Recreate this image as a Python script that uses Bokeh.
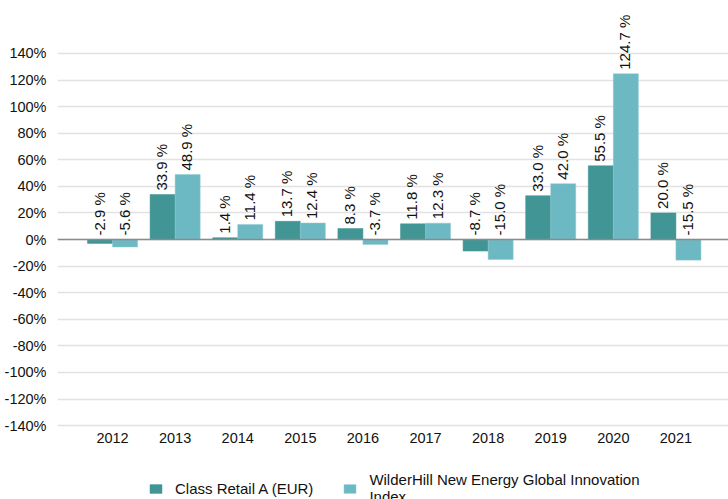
from bokeh.plotting import figure
from bokeh.models import (ColumnDataSource, Range1d, FixedTicker, PrintfTickFormatter,
                          Span, Legend, LegendItem, LabelSet)
from bokeh.core.properties import value
from bokeh.transform import dodge
from bokeh.embed import file_html
from bokeh.resources import INLINE

years = [2012, 2013, 2014, 2015, 2016, 2017, 2018, 2019, 2020, 2021]
fund = [-2.9, 33.9, 1.4, 13.7, 8.3, 11.8, -8.7, 33.0, 55.5, 20.0]
index = [-5.6, 48.9, 11.4, 12.4, -3.7, 12.3, -15.0, 42.0, 124.7, -15.5]
y_ticks = [-140, -120, -100, -80, -60, -40, -20, 0, 20, 40, 60, 80, 100, 120, 140]
fund_name = "Class Retail A (EUR)"
index_name = "WilderHill New Energy Global Innovation\nIndex"

DARK = "#419595"
LIGHT = "#6cb9c3"
FONT = "Liberation Sans"
TXT = "#111111"

def fmt(v):
    return "%.1f %%" % v

src = ColumnDataSource(dict(
    year=years, fund=fund, index=index,
    year_lab=[str(y) for y in years],
    fund_lab=[fmt(v) for v in fund], index_lab=[fmt(v) for v in index],
    fund_pos=[max(v, 0) for v in fund], index_pos=[max(v, 0) for v in index],
))

p = figure(width=728, height=499, output_backend="svg", toolbar_location=None,
           x_range=Range1d(2011.121, 2021.84), y_range=Range1d(-195.6, 179.85),
           min_border_left=57, min_border_right=0, min_border_top=0, min_border_bottom=0)
p.outline_line_color = None
p.background_fill_color = "white"
p.border_fill_color = "white"

r1 = p.vbar(x=dodge("year", -0.2, range=p.x_range), top="fund", bottom=0, width=0.4,
            source=src, fill_color=DARK, line_color=DARK, line_width=0.5)
r2 = p.vbar(x=dodge("year", 0.2, range=p.x_range), top="index", bottom=0, width=0.4,
            source=src, fill_color=LIGHT, line_color="#8fcbd3", line_width=0.5)

p.add_layout(Span(location=0, dimension="width", line_color="#8a8a8a", line_width=1.5))

for xo, ycol, tcol in [(-0.2, "fund_pos", "fund_lab"), (0.2, "index_pos", "index_lab")]:
    ls = LabelSet(x=dodge("year", xo, range=p.x_range), y=ycol, text=tcol, source=src,
                  angle=1.5708, text_align="left", text_baseline="middle",
                  x_offset=-1, y_offset=4,
                  text_font=value(FONT), text_font_size="15px", text_color=TXT)
    p.add_layout(ls)

# year labels under the -140% line
p.add_layout(LabelSet(x="year", y=-140, text="year_lab", source=src,
                      text_align="center", text_baseline="middle", y_offset=-12,
                      text_font=value(FONT), text_font_size="14.5px", text_color=TXT))

p.xaxis.visible = False

p.yaxis.ticker = FixedTicker(ticks=y_ticks)
p.yaxis.formatter = PrintfTickFormatter(format="%d%%")
p.yaxis.axis_line_color = None
p.yaxis.major_tick_line_color = None
p.yaxis.minor_tick_line_color = None
p.yaxis.major_label_standoff = 5
p.yaxis.major_label_text_font = FONT
p.yaxis.major_label_text_font_size = "14.5px"
p.yaxis.major_label_text_color = TXT

p.xgrid.grid_line_color = None
p.ygrid.grid_line_color = "#e2e2e2"
p.ygrid.grid_line_width = 1.5

legend = Legend(items=[LegendItem(label=fund_name, renderers=[r1]),
                       LegendItem(label=index_name, renderers=[r2])],
                orientation="horizontal", location=(91, -6),
                glyph_width=15, glyph_height=11, label_standoff=12, spacing=29,
                padding=0, margin=0, border_line_color=None, background_fill_alpha=0,
                label_text_font=FONT, label_text_font_size="15px", label_text_color=TXT,
                label_text_line_height=1.2)
p.add_layout(legend, "center")

open("out.html", "w").write(file_html(p, INLINE))
